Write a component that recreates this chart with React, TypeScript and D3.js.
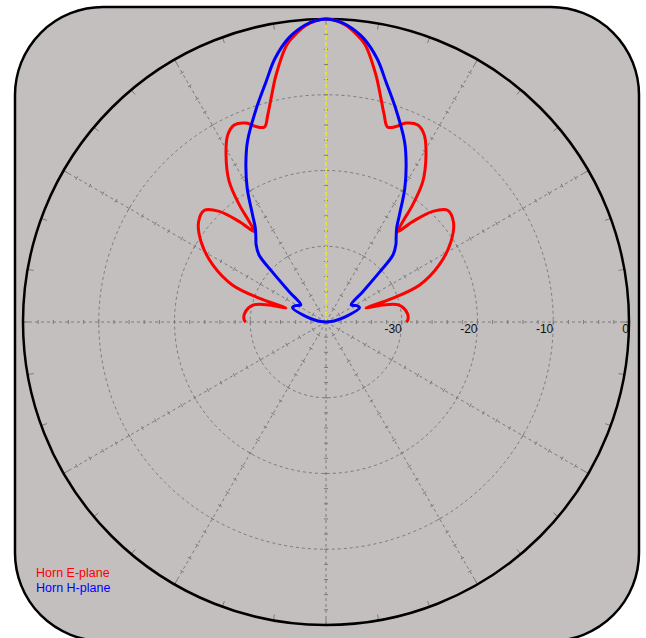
import React from "react";
import * as d3 from "d3";

// Right half of the patterns (angle in degrees from boresight, clockwise), mirrored for the left half
const eAngles = [0, 2, 4, 6, 8, 11.4, 13.8, 15.7, 17.5, 19.7, 21.9, 25, 27.7, 30.9, 34.6, 36.5, 37.4, 38.4, 40.8, 44, 47.4, 51.8, 57.3, 63.3, 68.4, 70.4, 70.8, 73.3, 77, 83.9, 88.6, 90];
const eValues = [0, -0.2, -0.8, -1.8, -3.0, -6.7, -9.6, -11.6, -13.0, -12.6, -11.7, -11.3, -12.1, -14.3, -17.5, -20.8, -23.3, -24.8, -22.5, -19.7, -18.2, -18.6, -20.4, -23.3, -26.7, -30.7, -34.4, -32.2, -30.1, -29.2, -29.2, -29.4];

const hAngles = [0, 2, 4, 7.5, 11, 14, 18, 23.5, 27, 30.5, 34.5, 37, 40, 42, 45, 47, 50.5, 56, 62, 67, 75, 82, 90];
const hValues = [0, -0.2, -0.7, -2.2, -4.6, -7.3, -10.3, -14.0, -16.7, -19.5, -22.9, -24.5, -25.6, -26.2, -27.5, -30.3, -33.7, -36.0, -35.4, -35.2, -37.3, -38.8, -40];

const ringValues = [-30, -20, -10];
const ringLabels = ["-30", "-20", "-10", "0"];
const labelValues = [-30, -20, -10, 0];
const spokeAngles = [0, 30, 60, 90, 120, 150, 180, 210, 240, 270, 300, 330];
const seriesNames = ["Horn E-plane", "Horn H-plane"];
const seriesColors = ["#ff0000", "#0000ff"];

const W = 646, H = 638;
const cx = 326, cy = 322, R = 303;

function mirror(angles: number[], values: number[]) {
  const pts: [number, number][] = [];
  for (let i = angles.length - 1; i > 0; i--) pts.push([-angles[i], values[i]]);
  for (let i = 0; i < angles.length; i++) pts.push([angles[i], values[i]]);
  return pts;
}

export default function App() {
  const r = d3.scaleLinear().domain([-40, 0]).range([0, R]);
  const toRad = (deg: number) => (deg * Math.PI) / 180;
  const line = d3
    .lineRadial<[number, number]>()
    .angle((d) => toRad(d[0]))
    .radius((d) => r(d[1]))
    .curve(d3.curveCatmullRom.alpha(0.5));

  const ePts = mirror(eAngles, eValues);
  const hPts = mirror(hAngles, hValues);

  const gridColor = "#7a7a7a";
  const tickSteps = d3.range(-38, 0, 2);

  return (
    <svg width={W} height={H} style={{ position: "absolute", left: 0, top: 0 }} fontFamily="Arial, 'Liberation Sans', sans-serif">
      <rect x={15} y={7} width={624} height={634} rx={88} ry={88} fill="#c3bfbf" stroke="#000" strokeWidth={2.5} />
      <g transform={`translate(${cx},${cy})`}>
        {ringValues.map((v) => (
          <circle key={v} r={r(v)} fill="none" stroke={gridColor} strokeWidth={1} strokeDasharray="3,3" />
        ))}
        {spokeAngles.map((a) => {
          const t = toRad(a);
          const sx = Math.sin(t), sy = -Math.cos(t);
          return (
            <g key={a}>
              <line x1={0} y1={0} x2={sx * R} y2={sy * R} stroke={gridColor} strokeWidth={1} strokeDasharray="3,3" />
              {tickSteps.map((v) => {
                const rr = r(v);
                const px = sx * rr, py = sy * rr;
                return (
                  <line key={v} x1={px - sy * 2} y1={py + sx * 2} x2={px + sy * 2} y2={py - sx * 2} stroke={gridColor} strokeWidth={1} />
                );
              })}
            </g>
          );
        })}
        <line x1={0} y1={0} x2={0} y2={-R} stroke="#eeee22" strokeWidth={1.6} strokeDasharray="4,2" />
        {d3.range(0, 360, 10).map((a) => {
          const t = toRad(a);
          const sx = Math.sin(t), sy = -Math.cos(t);
          return <line key={a} x1={sx * (R - 6)} y1={sy * (R - 6)} x2={sx * R} y2={sy * R} stroke={gridColor} strokeWidth={1} />;
        })}
        <circle r={R} fill="none" stroke="#000" strokeWidth={2.5} />
        {labelValues.map((v, i) => (
          <text key={v} x={r(v)} y={11} textAnchor="end" fontSize={12} fill="#111">
            {ringLabels[i]}
          </text>
        ))}
        <path d={line(ePts) || ""} fill="none" stroke={seriesColors[0]} strokeWidth={3} strokeLinejoin="round" />
        <path d={line(hPts) || ""} fill="none" stroke={seriesColors[1]} strokeWidth={3} strokeLinejoin="round" />
      </g>
      {seriesNames.map((n, i) => (
        <text key={n} x={36} y={577 + i * 15} fontSize={12.5} fill={seriesColors[i]}>
          {n}
        </text>
      ))}
    </svg>
  );
}
